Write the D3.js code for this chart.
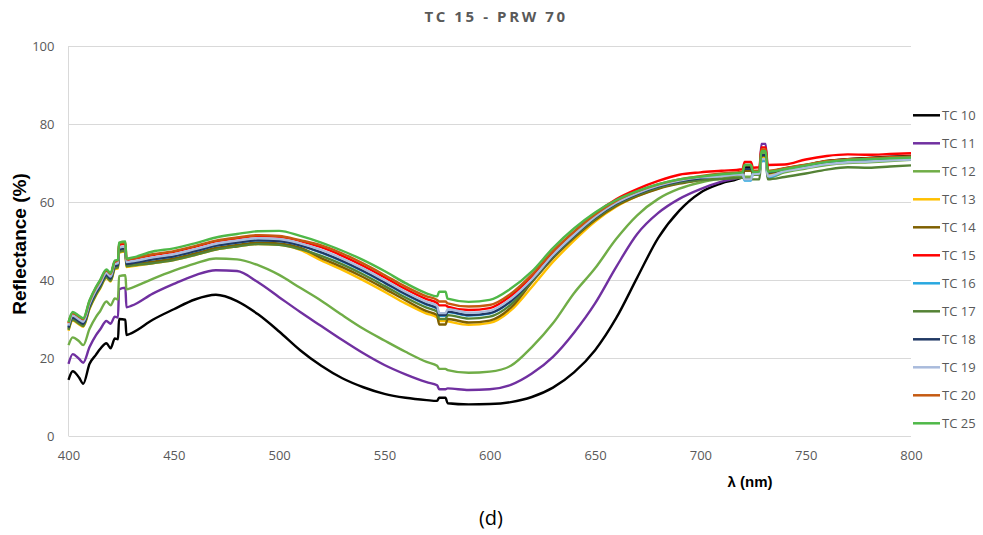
<!DOCTYPE html>
<html>
<head>
<meta charset="utf-8">
<script src="https://cdn.jsdelivr.net/npm/d3@7"></script>
<style>
  body { margin: 0; background: #fff; }
  svg { display: block; }
  .tick text { font-family: "Open Sans", sans-serif; font-size: 13px; fill: #595959; }
  .legend text { font-family: "Open Sans", sans-serif; font-size: 13px; fill: #595959; }
</style>
</head>
<body>
<div id="chart"></div>
<script>
// ---- data ----
var wavelengths = [400, 402, 405, 407, 410, 413, 415, 418, 420, 422, 423.5, 424, 427, 427.5, 430,
    440, 450, 460, 470, 480, 490, 500, 510, 520, 530, 540, 550, 560, 570, 575, 576, 579, 580, 590, 600,
    610, 620, 630, 640, 650, 660, 670, 680, 690, 700, 710, 720, 721, 724, 725, 728, 729, 731, 732,
    740, 750, 760, 770, 780, 790, 800];

var seriesNames = ["TC 10", "TC 11", "TC 12", "TC 13", "TC 14", "TC 15",
    "TC 16", "TC 17", "TC 18", "TC 19", "TC 20", "TC 25"];

var tc10 = [14.4, 16.6, 15.0, 13.4, 18.5, 20.8, 22.3, 23.8, 22.5, 25.0, 24.8, 30.0, 29.8, 25.9, 26.4,
    29.8, 32.5, 35.0, 36.2, 34.6, 31.2, 26.8, 22.0, 18.0, 14.8, 12.5, 10.8, 9.8, 9.2, 9.0, 9.8, 9.8, 8.4, 8.1, 8.2,
    8.7, 10.0, 12.4, 16.3, 22.0, 30.2, 40.6, 50.8, 57.8, 62.4, 64.8, 66.4, 69.0, 69.0, 67.0, 67.1, 72.5, 72.5, 67.9,
    68.6, 69.5, 70.5, 71.0, 71.3, 71.6, 71.8];
var tc11 = [18.5, 21.0, 19.8, 18.8, 22.8, 25.8, 27.3, 29.5, 28.8, 30.6, 30.4, 37.6, 38.0, 33.0, 33.4,
    36.5, 39.0, 41.2, 42.5, 42.3, 39.4, 35.6, 31.8, 28.2, 24.6, 21.2, 18.2, 15.8, 13.8, 13.0, 12.0, 12.0, 12.2, 11.8, 12.0,
    13.1, 16.0, 20.3, 26.5, 34.0, 43.3, 51.8, 57.2, 60.8, 63.3, 65.2, 66.7, 69.5, 69.5, 67.2, 67.3, 74.9, 74.9, 67.8,
    68.3, 69.2, 70.1, 70.6, 70.8, 71.1, 71.3];
var tc12 = [23.3, 25.3, 24.3, 23.3, 27.5, 30.5, 32.0, 34.5, 33.5, 35.3, 35.0, 41.0, 41.2, 37.6, 38.0,
    40.3, 42.4, 44.2, 45.5, 45.3, 43.8, 41.3, 38.0, 34.7, 31.0, 27.5, 24.5, 21.6, 19.0, 18.0, 17.2, 17.2, 16.9, 16.2, 16.5,
    18.0, 22.8, 28.9, 36.6, 43.0, 50.5, 56.6, 60.8, 63.4, 65.0, 66.0, 66.7, 66.5, 66.5, 67.0, 67.1, 72.5, 72.5, 66.2,
    67.6, 68.6, 69.5, 70.0, 70.2, 70.5, 70.8];
var tc13 = [27.0, 29.6, 28.6, 28.0, 32.6, 36.0, 37.8, 40.5, 39.6, 42.8, 43.0, 47.0, 47.3, 43.3, 43.5,
    44.3, 45.1, 46.4, 47.8, 48.6, 49.2, 49.0, 47.7, 45.0, 42.6, 39.9, 37.0, 34.0, 31.4, 30.4, 29.5, 29.5, 29.4, 28.5, 29.0,
    32.2, 38.2, 44.6, 50.1, 55.0, 58.8, 61.5, 63.5, 64.9, 65.8, 66.9, 67.4, 68.2, 68.2, 67.5, 67.6, 71.5, 71.5, 67.2,
    68.2, 69.1, 70.0, 70.5, 70.7, 71.0, 71.2];
var tc14 = [27.5, 30.1, 29.1, 28.5, 33.1, 36.5, 38.3, 41.0, 40.1, 43.3, 43.5, 47.5, 47.8, 43.8, 44.0,
    44.7, 45.5, 46.8, 48.2, 49.0, 49.6, 49.4, 48.3, 45.6, 43.3, 40.7, 37.8, 34.8, 32.0, 31.0, 28.6, 28.6, 30.0, 29.1, 29.6,
    32.9, 39.4, 45.6, 50.8, 55.4, 59.0, 61.5, 63.4, 64.7, 65.6, 66.6, 67.3, 68.0, 68.0, 67.6, 67.7, 72.0, 72.0, 67.4,
    68.3, 69.2, 70.1, 70.6, 70.8, 71.1, 71.3];
var tc15 = [28.8, 31.4, 30.4, 29.8, 34.4, 37.8, 39.6, 42.3, 41.4, 44.6, 44.8, 49.0, 49.3, 45.1, 45.3,
    46.4, 47.2, 48.5, 49.9, 50.7, 51.3, 51.1, 50.0, 48.4, 46.2, 43.6, 40.7, 37.7, 35.1, 34.1, 33.5, 33.5, 33.2, 32.3, 32.8,
    35.9, 41.0, 47.1, 52.3, 57.0, 60.7, 63.3, 65.4, 67.0, 67.6, 68.0, 68.4, 70.3, 70.3, 68.8, 68.9, 74.0, 74.0, 69.5,
    69.6, 70.9, 71.8, 72.2, 72.1, 72.3, 72.5];
var tc16 = [28.0, 30.6, 29.6, 29.0, 33.6, 37.0, 38.8, 41.5, 40.6, 43.8, 44.0, 48.0, 48.3, 44.3, 44.5,
    45.3, 46.1, 47.4, 48.8, 49.6, 50.2, 50.0, 48.9, 47.0, 44.8, 42.2, 39.3, 36.3, 33.7, 32.7, 30.8, 30.8, 31.8, 30.9, 31.4,
    34.5, 40.0, 46.2, 51.4, 56.0, 59.6, 62.1, 64.0, 65.3, 66.1, 66.7, 67.2, 65.5, 65.5, 67.3, 67.4, 70.5, 70.5, 66.3,
    68.0, 68.9, 69.8, 70.3, 70.5, 70.8, 71.0];
var tc17 = [27.2, 29.8, 28.8, 28.2, 32.8, 36.2, 38.0, 40.7, 39.8, 43.0, 43.2, 47.2, 47.5, 43.5, 43.7,
    44.3, 45.1, 46.4, 47.8, 48.6, 49.2, 49.0, 47.9, 46.2, 44.0, 41.4, 38.5, 35.5, 32.9, 31.9, 30.0, 30.0, 31.0, 30.1, 30.6,
    33.7, 39.7, 45.9, 51.1, 55.7, 59.3, 61.8, 63.7, 64.9, 65.6, 65.9, 66.2, 66.0, 66.0, 65.8, 65.8, 71.0, 71.0, 65.8,
    66.4, 67.3, 68.3, 68.9, 68.8, 69.1, 69.4];
var tc18 = [27.8, 30.4, 29.4, 28.8, 33.4, 36.8, 38.6, 41.3, 40.4, 43.6, 43.8, 47.8, 48.1, 44.1, 44.3,
    45.3, 46.1, 47.4, 48.8, 49.6, 50.2, 50.0, 48.9, 47.1, 44.9, 42.3, 39.4, 36.4, 33.8, 32.8, 31.0, 31.0, 31.9, 31.0, 31.5,
    34.6, 40.0, 46.2, 51.4, 56.0, 59.6, 62.1, 64.0, 65.3, 66.1, 67.0, 67.6, 68.5, 68.5, 67.8, 67.9, 72.0, 72.0, 67.6,
    68.5, 69.4, 70.3, 70.8, 71.0, 71.3, 71.5];
var tc19 = [28.3, 30.9, 29.9, 29.3, 33.9, 37.3, 39.1, 41.8, 40.9, 44.1, 44.3, 48.3, 48.6, 44.6, 44.8,
    45.8, 46.6, 47.9, 49.3, 50.1, 50.7, 50.5, 49.4, 47.7, 45.5, 42.9, 40.0, 37.0, 34.4, 33.4, 31.5, 31.5, 32.5, 31.6, 32.1,
    35.2, 40.2, 46.4, 51.6, 56.2, 59.8, 62.3, 64.2, 65.5, 66.3, 66.6, 67.1, 65.8, 65.8, 67.2, 67.3, 71.0, 71.0, 66.6,
    67.9, 68.8, 69.7, 70.2, 70.4, 70.7, 70.9];
var tc20 = [29.0, 31.6, 30.6, 30.0, 34.6, 38.0, 39.8, 42.5, 41.6, 44.8, 45.0, 49.4, 49.6, 45.3, 45.5,
    46.6, 47.4, 48.7, 50.1, 50.9, 51.5, 51.3, 50.2, 48.9, 46.8, 44.2, 41.3, 38.3, 35.8, 34.9, 34.5, 34.5, 34.0, 33.2, 33.6,
    36.5, 41.4, 47.4, 52.4, 56.8, 60.3, 62.7, 64.5, 65.8, 66.6, 67.3, 67.8, 69.5, 69.5, 68.0, 68.1, 73.5, 73.5, 68.0,
    68.7, 69.6, 70.5, 71.0, 71.2, 71.5, 71.7];
var tc25 = [29.2, 31.8, 30.8, 30.2, 34.8, 38.2, 40.0, 42.7, 41.8, 45.0, 45.2, 49.6, 49.9, 45.5, 45.7,
    47.3, 48.1, 49.4, 50.9, 51.8, 52.5, 52.6, 51.3, 49.6, 47.5, 45.1, 42.3, 39.2, 36.6, 35.8, 37.0, 37.0, 35.2, 34.4, 34.9,
    37.8, 42.2, 48.2, 53.2, 57.3, 60.5, 62.8, 64.6, 65.8, 66.5, 67.1, 67.6, 69.5, 69.5, 67.7, 67.8, 73.0, 73.0, 67.8,
    68.4, 69.4, 70.3, 70.8, 71.0, 71.2, 71.4];

var xTickValues = [400, 450, 500, 550, 600, 650, 700, 750, 800];
var yTickValues = [0, 20, 40, 60, 80, 100];

// ---- drawing ----
(function() {
    var seriesValues = [tc10, tc11, tc12, tc13, tc14, tc15, tc16, tc17, tc18, tc19, tc20, tc25];
    var colors = ["#000000", "#7030a0", "#70ad47", "#ffc000", "#7f6000", "#ff0000",
        "#29a8e0", "#548235", "#203864", "#a9bbdc", "#c55a11", "#4fb848"];

    var width = 983, height = 535;
    var plotLeft = 68.5, plotRight = 911, plotTop = 46, plotBottom = 436;

    var svg = d3.select("#chart").append("svg").attr("width", width).attr("height", height);

    var x = d3.scaleLinear().domain([400, 800]).range([plotLeft, plotRight]);
    var y = d3.scaleLinear().domain([0, 100]).range([plotBottom, plotTop]);

    // gridlines
    svg.append("g").selectAll("line")
        .data(yTickValues)
        .enter().append("line")
        .attr("x1", plotLeft).attr("x2", plotRight)
        .attr("y1", function(d) { return Math.round(y(d)) + 0.5; })
        .attr("y2", function(d) { return Math.round(y(d)) + 0.5; })
        .attr("stroke", "#d9d9d9").attr("stroke-width", 1);

    svg.append("line")
        .attr("x1", plotLeft).attr("x2", plotLeft)
        .attr("y1", plotTop).attr("y2", plotBottom)
        .attr("stroke", "#d9d9d9").attr("stroke-width", 1);

    // axes
    var yAxis = svg.append("g")
        .attr("transform", "translate(" + (plotLeft - 14) + ",0)")
        .call(d3.axisLeft(y).tickValues(yTickValues).tickSize(0).tickPadding(0));
    yAxis.select(".domain").remove();

    var xAxis = svg.append("g")
        .attr("transform", "translate(0," + (plotBottom + 15) + ")")
        .call(d3.axisBottom(x).tickValues(xTickValues).tickSize(0).tickPadding(0));
    xAxis.select(".domain").remove();

    // lines
    var line = d3.line()
        .x(function(d, i) { return x(wavelengths[i]); })
        .y(function(d) { return y(d); })
        .curve(d3.curveMonotoneX);

    svg.append("g").selectAll("path")
        .data(seriesValues)
        .enter().append("path")
        .attr("d", function(d) { return line(d); })
        .attr("fill", "none")
        .attr("stroke", function(d, i) { return colors[i]; })
        .attr("stroke-width", 2.4)
        .attr("stroke-linejoin", "round");

    // legend
    var legend = svg.append("g").attr("class", "legend");
    var item = legend.selectAll("g")
        .data(seriesNames)
        .enter().append("g")
        .attr("transform", function(d, i) { return "translate(913," + (115.3 + i * 28) + ")"; });
    item.append("line")
        .attr("x1", 0).attr("x2", 27)
        .attr("stroke", function(d, i) { return colors[i]; })
        .attr("stroke-width", 2.5);
    item.append("text")
        .attr("x", 29).attr("dy", "0.36em")
        .text(function(d) { return d; });

    // titles
    svg.append("text")
        .attr("x", 496).attr("y", 22)
        .attr("text-anchor", "middle")
        .style("font-family", "'Open Sans', sans-serif")
        .style("font-size", "15px").style("font-weight", "bold")
        .style("letter-spacing", "2.6px")
        .style("fill", "#595959")
        .text("TC 15 - PRW 70");

    svg.append("text")
        .attr("transform", "translate(26,244) rotate(-90)")
        .attr("text-anchor", "middle")
        .style("font-family", "'Liberation Sans', Arial, sans-serif")
        .style("font-size", "19px").style("font-weight", "bold")
        .style("fill", "#000")
        .text("Reflectance (%)");

    svg.append("text")
        .attr("x", 750).attr("y", 487)
        .attr("text-anchor", "middle")
        .style("font-family", "'Liberation Sans', Arial, sans-serif")
        .style("font-size", "15px").style("font-weight", "bold")
        .style("fill", "#000")
        .text("λ (nm)");

    svg.append("text")
        .attr("x", 491).attr("y", 525)
        .attr("text-anchor", "middle")
        .style("font-family", "'Open Sans', sans-serif")
        .style("font-size", "20px")
        .style("fill", "#000")
        .text("(d)");
})();
</script>
</body>
</html>
